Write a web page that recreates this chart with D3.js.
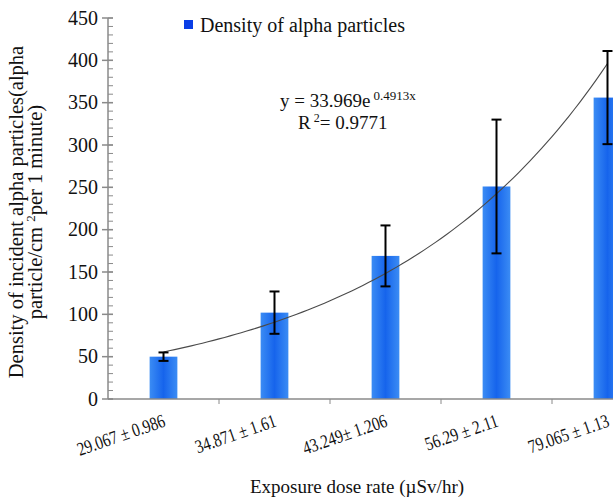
<!DOCTYPE html>
<html>
<head>
<meta charset="utf-8">
<script src="https://cdn.jsdelivr.net/npm/d3@7"></script>
<style>
  body { margin: 0; background: #fff; }
  svg text { font-family: "Liberation Serif", "DejaVu Serif", serif; fill: #111; }
</style>
</head>
<body>
<div id="chart"></div>
<script>
//--------------------------------------------------------------------------------
// data
var doseLabels = ["29.067 \u00b1 0.986", "34.871 \u00b1 1.61", "43.249\u00b1 1.206",
                  "56.29 \u00b1 2.11", "79.065 \u00b1 1.13"];
var densityValues = [50, 102, 169, 251, 356];
var densityErrors = [5, 25, 36, 79, 55];
var yTicks = [0, 50, 100, 150, 200, 250, 300, 350, 400, 450];
var fitA = 33.969;     // y = a * e^(b x), trendline shown on the chart
var fitB = 0.4913;
//--------------------------------------------------------------------------------
var width = 613, height = 499;
var plotLeft = 108, plotBottom = 399, plotTop = 18;
var bandWidth = 111;   // plot runs past the right edge, last bar is clipped

var svg = d3.select("#chart").append("svg")
    .attr("width", width)
    .attr("height", height);

var defs = svg.append("defs");
var grad = defs.append("linearGradient").attr("id", "barGrad")
    .attr("x1", "0%").attr("x2", "100%").attr("y1", "0%").attr("y2", "0%");
grad.append("stop").attr("offset", "0%").attr("stop-color", "#3b8cf4");
grad.append("stop").attr("offset", "50%").attr("stop-color", "#1664ec");
grad.append("stop").attr("offset", "100%").attr("stop-color", "#3b8cf4");

var xScale = d3.scaleBand()
    .domain(doseLabels)
    .range([plotLeft, plotLeft + bandWidth * doseLabels.length])
    .paddingInner(0.75)
    .paddingOuter(0.375);

var yScale = d3.scaleLinear()
    .domain([0, 450])
    .range([plotBottom, plotTop]);

  // bars
svg.selectAll("rect.bar")
   .data(densityValues)
   .enter()
   .append("rect")
   .attr("class", "bar")
   .attr("x", function(d, i){ return xScale(doseLabels[i]); })
   .attr("y", function(d){ return yScale(d); })
   .attr("width", xScale.bandwidth())
   .attr("height", function(d){ return yScale(0) - yScale(d); })
   .style("fill", "url(#barGrad)");

  // trendline from the fitted equation, x = 1..5 at the bar centres
var xFit = d3.scaleLinear()
    .domain([1, doseLabels.length])
    .range([xScale(doseLabels[0]) + xScale.bandwidth() / 2,
            xScale(doseLabels[doseLabels.length - 1]) + xScale.bandwidth() / 2]);
var fitPoints = d3.range(1, doseLabels.length + 0.001, 0.05);
var line = d3.line()
    .x(function(d){ return xFit(d); })
    .y(function(d){ return yScale(fitA * Math.exp(fitB * d)); })
    .curve(d3.curveMonotoneX);
svg.append("path")
   .datum(fitPoints)
   .attr("d", line)
   .attr("fill", "none")
   .attr("stroke", "#4a4a4a")
   .attr("stroke-width", 1.1);

  // error bars
var errG = svg.append("g").attr("stroke", "#000").attr("stroke-width", 2);
densityValues.forEach(function(d, i){
   var cx = xScale(doseLabels[i]) + xScale.bandwidth() / 2;
   var y0 = yScale(d - densityErrors[i]);
   var y1 = yScale(d + densityErrors[i]);
   errG.append("line").attr("x1", cx).attr("x2", cx).attr("y1", y0).attr("y2", y1);
   errG.append("line").attr("x1", cx - 5).attr("x2", cx + 5).attr("y1", y0).attr("y2", y0);
   errG.append("line").attr("x1", cx - 5).attr("x2", cx + 5).attr("y1", y1).attr("y2", y1);
});

  // y axis: major ticks both sides, minor ticks every 10 on the right
var axisColor = "#8a8a8a";
var yAxisG = svg.append("g");
yAxisG.append("line")
   .attr("x1", plotLeft).attr("x2", plotLeft)
   .attr("y1", yScale(0)).attr("y2", yScale(450))
   .attr("stroke", axisColor).attr("stroke-width", 1.5);
yAxisG.selectAll("line.minor")
   .data(d3.range(0, 451, 10))
   .enter()
   .append("line")
   .attr("class", "minor")
   .attr("x1", plotLeft).attr("x2", plotLeft + 5)
   .attr("y1", function(d){ return yScale(d); })
   .attr("y2", function(d){ return yScale(d); })
   .attr("stroke", axisColor).attr("stroke-width", 1);
yAxisG.selectAll("line.major")
   .data(yTicks)
   .enter()
   .append("line")
   .attr("class", "major")
   .attr("x1", plotLeft - 6).attr("x2", plotLeft + 5)
   .attr("y1", function(d){ return yScale(d); })
   .attr("y2", function(d){ return yScale(d); })
   .attr("stroke", axisColor).attr("stroke-width", 1.5);
yAxisG.selectAll("text")
   .data(yTicks)
   .enter()
   .append("text")
   .attr("x", plotLeft - 10)
   .attr("y", function(d){ return yScale(d); })
   .attr("dy", "0.33em")
   .attr("text-anchor", "end")
   .style("font-size", "20px")
   .text(function(d){ return d; });

  // x axis
var xAxisG = svg.append("g");
xAxisG.append("line")
   .attr("x1", plotLeft).attr("x2", width)
   .attr("y1", plotBottom).attr("y2", plotBottom)
   .attr("stroke", axisColor).attr("stroke-width", 1.5);
xAxisG.selectAll("line.tick")
   .data(doseLabels)
   .enter()
   .append("line")
   .attr("class", "tick")
   .attr("x1", function(d){ return xScale(d) + xScale.bandwidth() / 2 + bandWidth / 2; })
   .attr("x2", function(d){ return xScale(d) + xScale.bandwidth() / 2 + bandWidth / 2; })
   .attr("y1", plotBottom).attr("y2", plotBottom + 5)
   .attr("stroke", axisColor).attr("stroke-width", 1);
  // the labels in the picture are narrow, so squeeze them along the baseline
xAxisG.selectAll("text")
   .data(doseLabels)
   .enter()
   .append("text")
   .attr("transform", function(d){
      var cx = xScale(d) + xScale.bandwidth() / 2 + 3;
      return "translate(" + cx + "," + (plotBottom + 27) + ") rotate(-19) scale(0.8,1)";
   })
   .attr("text-anchor", "end")
   .style("font-size", "19px")
   .text(function(d){ return d; });

  // axis titles
svg.append("text")
   .attr("x", 357).attr("y", 493)
   .attr("text-anchor", "middle")
   .style("font-size", "19px")
   .text("Exposure dose rate (\u00b5Sv/hr)");

var yTitle = svg.append("text")
   .attr("transform", "translate(23,212) rotate(-90)")
   .attr("text-anchor", "middle")
   .style("font-size", "20.5px");
yTitle.append("tspan").attr("x", 0).attr("dy", 0)
   .text("Density of incident alpha particles(alpha");
var t2 = yTitle.append("tspan").attr("x", 0).attr("dy", 19);
t2.append("tspan").text("particle/cm ");
t2.append("tspan").attr("dy", -7).style("font-size", "13px").text("2");
t2.append("tspan").attr("dy", 7).text("per 1 minute)");

  // legend
svg.append("rect")
   .attr("x", 184).attr("y", 20)
   .attr("width", 9).attr("height", 9)
   .style("fill", "#0a3ee6");
svg.append("text")
   .attr("x", 200).attr("y", 32)
   .style("font-size", "20px")
   .text("Density of alpha particles");

  // fitted equation
var eq = svg.append("text")
   .attr("x", 280).attr("y", 107)
   .style("font-size", "19px");
eq.append("tspan").text("y = " + fitA + "e");
eq.append("tspan").attr("dx", 3).attr("dy", -7).style("font-size", "13px").text(fitB + "x");

var r2 = svg.append("text")
   .attr("x", 298).attr("y", 129)
   .style("font-size", "19px");
r2.append("tspan").text("R");
r2.append("tspan").attr("dx", 3).attr("dy", -7).style("font-size", "12px").text("2");
r2.append("tspan").attr("dy", 7).text("= 0.9771");
//--------------------------------------------------------------------------------
</script>
</body>
</html>
